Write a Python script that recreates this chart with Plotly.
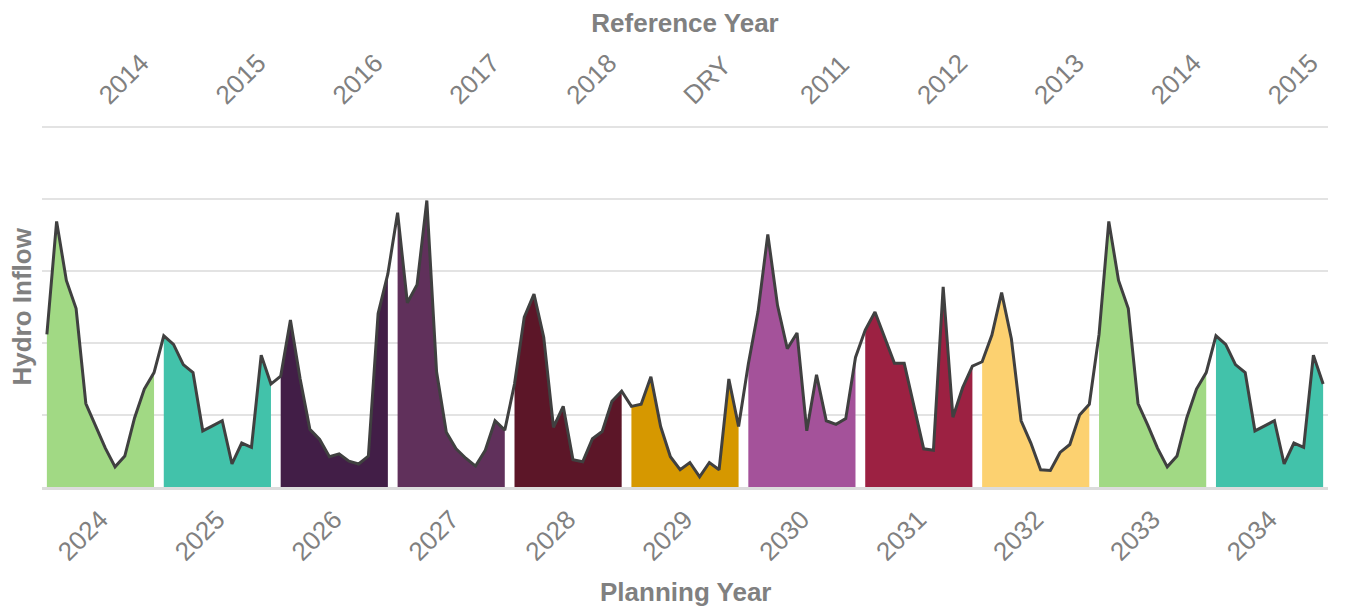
import plotly.graph_objects as go

planning_years = ["2024", "2025", "2026", "2027", "2028", "2029",
                  "2030", "2031", "2032", "2033", "2034"]
reference_years = ["2014", "2015", "2016", "2017", "2018", "DRY",
                   "2011", "2012", "2013", "2014", "2015"]

y2024 = [2.12, 3.69, 2.87, 2.48, 1.16, 0.86, 0.54, 0.28, 0.43, 0.96, 1.36, 1.59]
y2025 = [2.10, 1.98, 1.70, 1.59, 0.78, 0.85, 0.92, 0.32, 0.61, 0.55, 1.83, 1.43]
y2026 = [1.54, 2.32, 1.50, 0.80, 0.66, 0.42, 0.46, 0.36, 0.32, 0.43, 2.41, 2.96]
y2027 = [3.81, 2.56, 2.81, 3.98, 1.60, 0.76, 0.53, 0.40, 0.29, 0.51, 0.92, 0.79]
y2028 = [1.43, 2.36, 2.68, 2.08, 0.83, 1.12, 0.38, 0.35, 0.67, 0.77, 1.19, 1.33]
y2029 = [1.12, 1.15, 1.53, 0.84, 0.42, 0.24, 0.34, 0.14, 0.34, 0.24, 1.50, 0.84]
y2030 = [1.71, 2.44, 3.51, 2.52, 1.92, 2.14, 0.78, 1.56, 0.92, 0.87, 0.95, 1.80]
y2031 = [2.18, 2.43, 2.07, 1.72, 1.72, 1.14, 0.53, 0.51, 2.78, 0.97, 1.38, 1.68]
y2032 = [1.74, 2.11, 2.70, 2.06, 0.92, 0.61, 0.24, 0.23, 0.48, 0.59, 1.00, 1.15]
y2033 = [2.12, 3.69, 2.87, 2.48, 1.16, 0.86, 0.54, 0.28, 0.43, 0.96, 1.36, 1.59]
y2034 = [2.10, 1.98, 1.70, 1.59, 0.78, 0.85, 0.92, 0.32, 0.61, 0.55, 1.83, 1.43]

series = [y2024, y2025, y2026, y2027, y2028, y2029,
          y2030, y2031, y2032, y2033, y2034]

colors = ["#A1D984", "#42C2AA", "#421E47", "#60305B", "#5C1628", "#D69800",
          "#A4529A", "#9C2142", "#FCD170", "#A1D984", "#42C2AA"]

months = 12
fig = go.Figure()

all_x, all_y = [], []
for i, vals in enumerate(series):
    xs = [i * months + m for m in range(months)]
    all_x += xs
    all_y += vals
    fig.add_trace(go.Scatter(
        x=xs, y=vals, mode="lines", fill="tozeroy",
        line=dict(width=0, color=colors[i]), fillcolor=colors[i],
        showlegend=False, hoverinfo="skip"))

fig.add_trace(go.Scatter(
    x=all_x, y=all_y, mode="lines",
    line=dict(color="#404040", width=3), showlegend=False))

# invisible trace on top axis
fig.add_trace(go.Scatter(x=[all_x[0]], y=[0], xaxis="x2", mode="markers",
                         marker=dict(opacity=0), showlegend=False, hoverinfo="skip"))

centers = [i * months + (months - 1) / 2 for i in range(len(series))]
xrange = [-0.5, len(series) * months - 0.5]
gray = "#808080"
fontfam = "Liberation Sans, Arial, sans-serif"

fig.update_layout(
    width=1344, height=599,
    margin=dict(l=34, r=24, t=118, b=120),
    plot_bgcolor="white", paper_bgcolor="white",
    font=dict(family=fontfam, color=gray),
    xaxis=dict(range=xrange, tickmode="array", tickvals=centers,
               ticktext=planning_years, tickangle=-45,
               tickfont=dict(size=26, color=gray),
               ticks="outside", ticklen=4, tickcolor="rgba(0,0,0,0)",
               showgrid=False, zeroline=False,
               showline=True, linecolor="#dcdcdc", linewidth=3,
               automargin=False),
    xaxis2=dict(range=xrange, overlaying="x", side="top", tickmode="array",
                tickvals=centers, ticktext=reference_years, tickangle=-45,
                tickfont=dict(size=26, color=gray),
                ticks="outside", ticklen=5, tickcolor="rgba(0,0,0,0)",
                showgrid=False, zeroline=False, showline=False,
                title=dict(text="<b>Reference Year</b>", font=dict(size=26, color=gray),
                           standoff=10),
                automargin=False),
    yaxis=dict(range=[0, 5.015], tickmode="array", tickvals=[1, 2, 3, 4, 5],
               showticklabels=False,
               showgrid=True, gridcolor="#e3e3e3", gridwidth=2,
               zeroline=False, automargin=False),
    annotations=[
        dict(text="<b>Hydro Inflow</b>", xref="paper", yref="paper",
             x=-0.0163, y=0.50, xanchor="center", yanchor="middle",
             textangle=-90, showarrow=False,
             font=dict(size=26, color=gray, family=fontfam)),
        dict(text="<b>Planning Year</b>", xref="paper", yref="paper",
             x=0.5, y=-0.291, xanchor="center", yanchor="middle",
             showarrow=False,
             font=dict(size=26, color=gray, family=fontfam)),
    ],
)

fig.write_html("out.html")
